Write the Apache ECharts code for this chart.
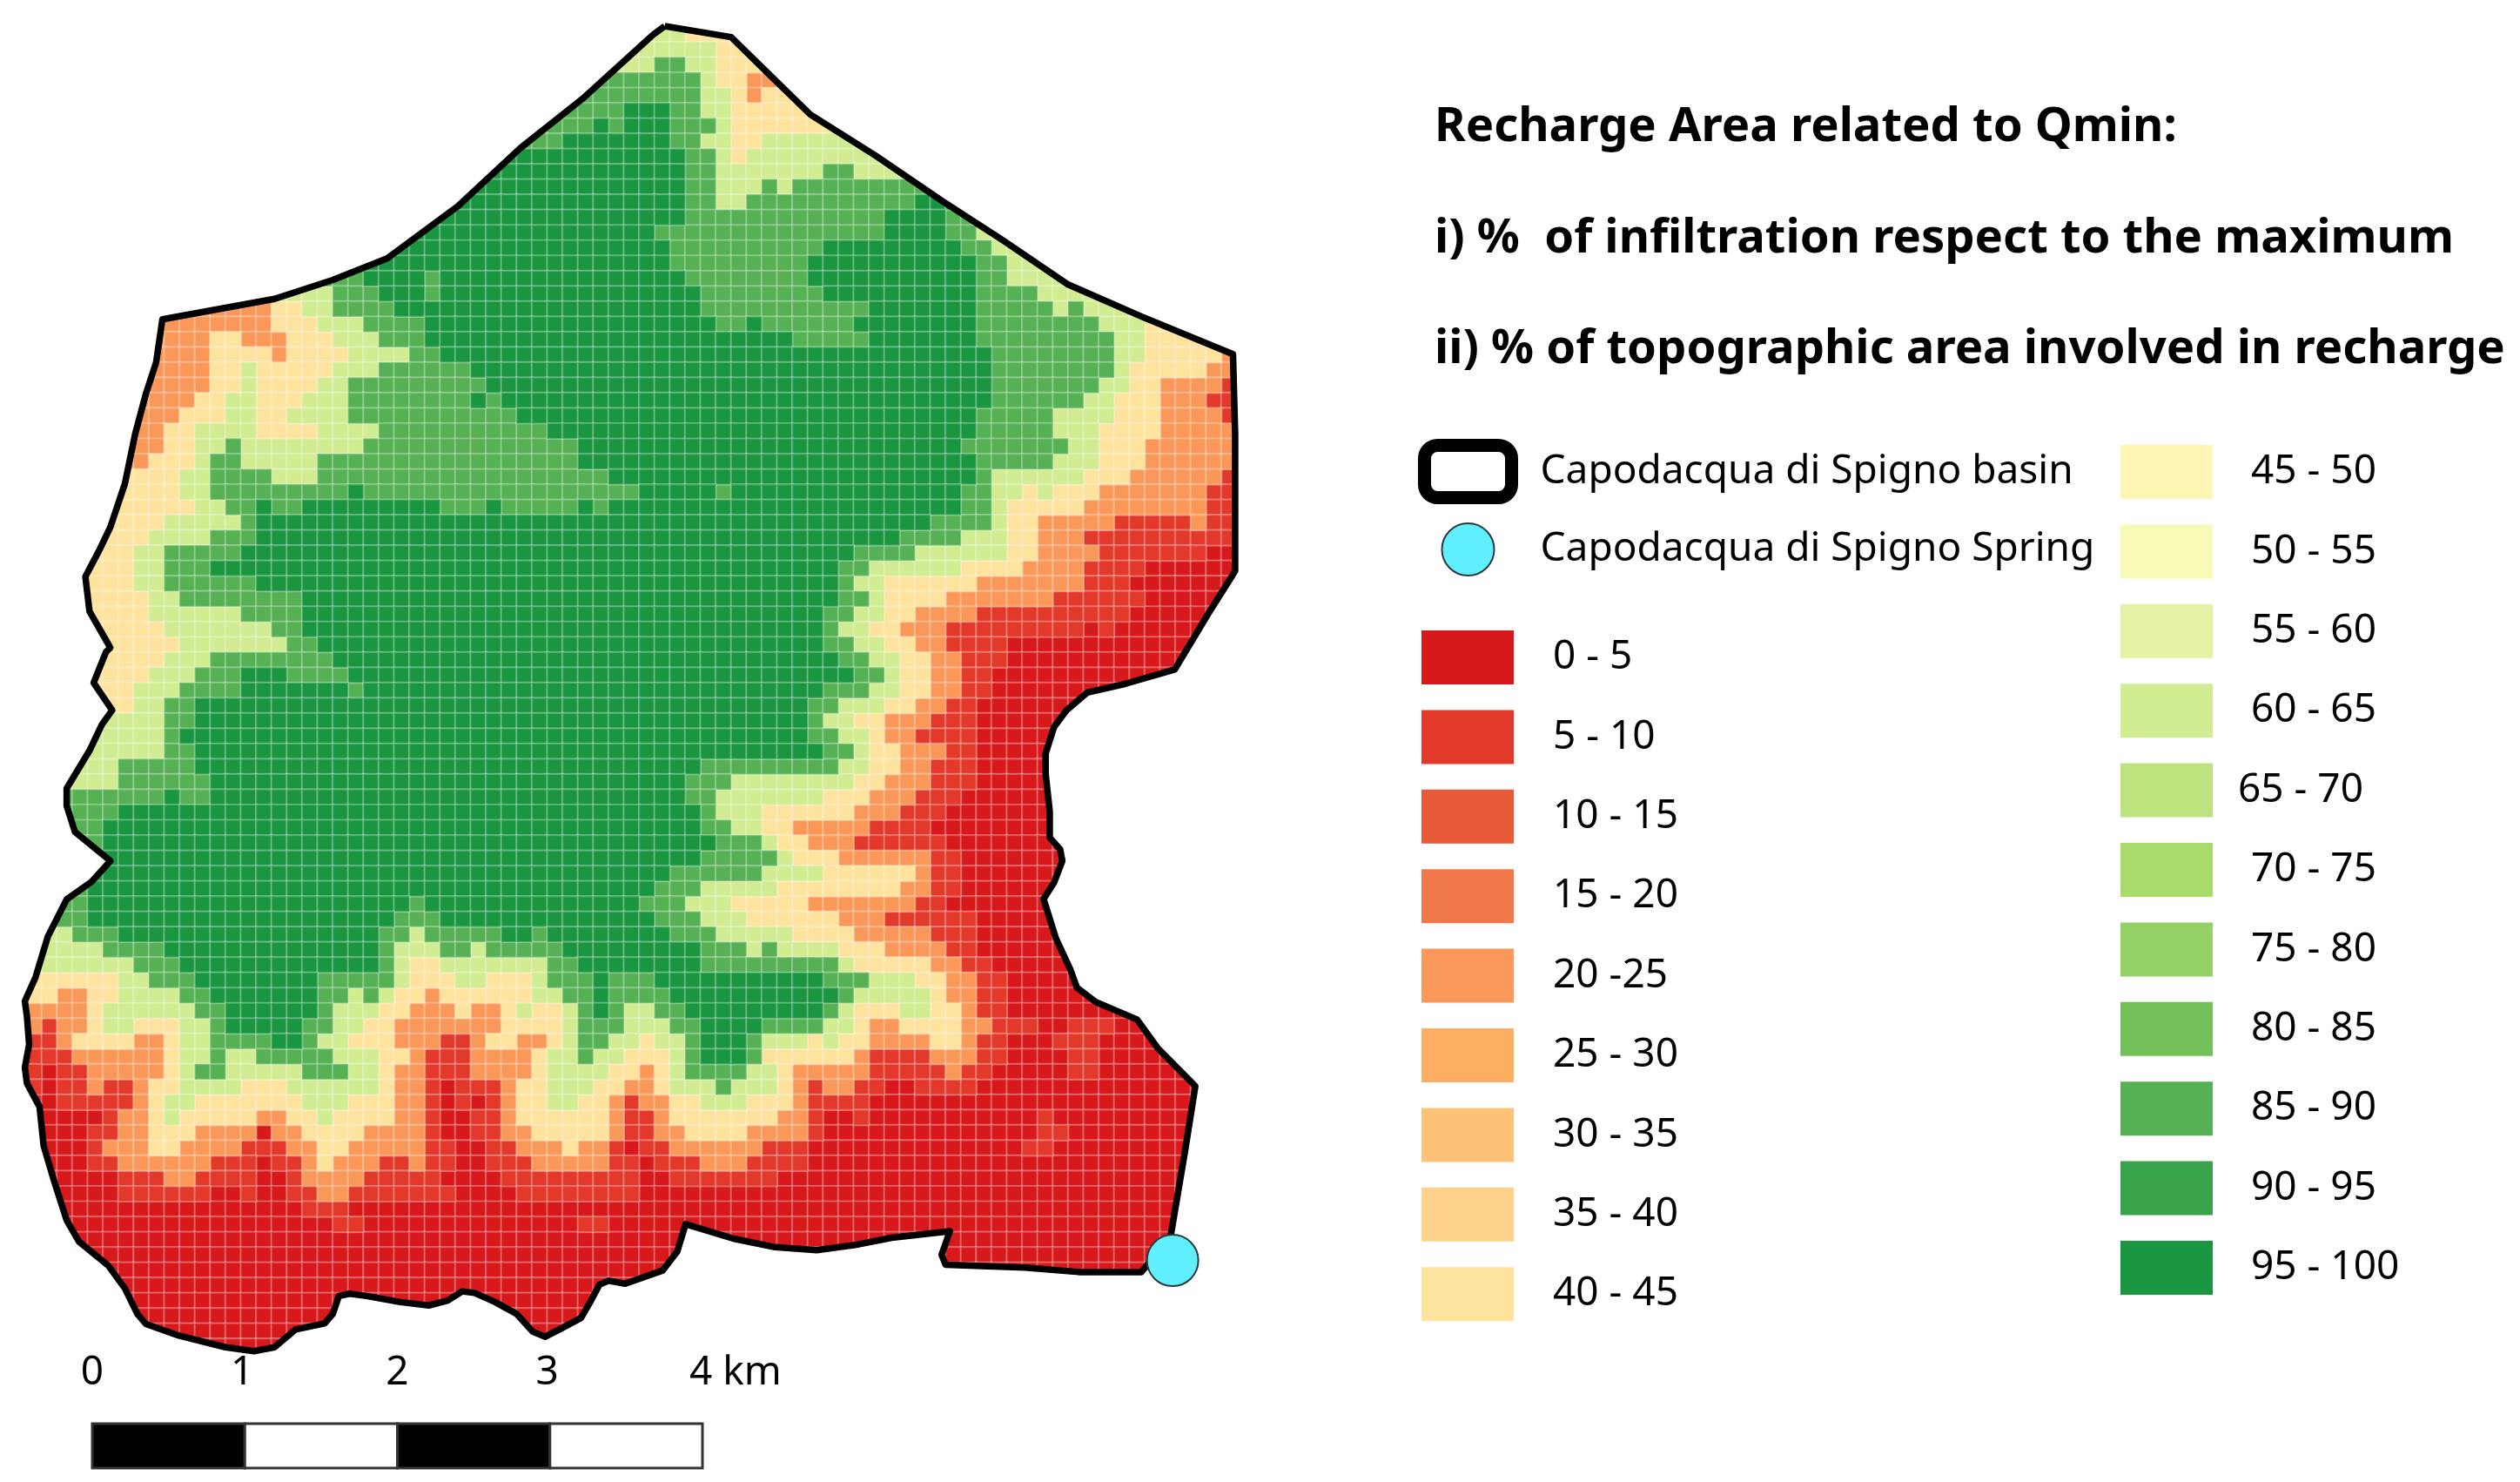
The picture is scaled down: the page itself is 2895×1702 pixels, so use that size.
<!DOCTYPE html>
<html>
<head>
<meta charset="utf-8">
<style>html,body{margin:0;padding:0;background:#fff}#c{width:2895px;height:1702px}</style>
<script src="https://cdn.jsdelivr.net/npm/echarts@6/dist/echarts.min.js"></script>
</head>
<body>
<div id="c"></div>
<script>
// Infiltration classes, low to high
const bandNames = ['0 - 5','5 - 10','10 - 15','15 - 20','20 -25','25 - 30','30 - 35','35 - 40','40 - 45',
  '45 - 50','50 - 55','55 - 60','60 - 65','65 - 70','70 - 75','75 - 80','80 - 85','85 - 90','90 - 95','95 - 100'];
const bandColors = ['#d7191c','#e2392a','#e85a38','#f1784a','#f99858','#fdae61','#fec178','#fed28d','#fee39f',
  '#fff5b5','#f8fbb8','#e3f2a5','#d2ec92','#bde37f','#a9da6c','#93d066','#73bf58','#55b153','#38a34b','#1a9641'];
// Letters used in the map rows -> index of the band in bandNames
const classOf = {R:0, r:1, O:4, Y:8, L:12, G:17, D:19};

// Raster rows, north to south. First number is the first column; each token is a class
// and the last column it reaches.
const mapRows = [
"",
"41 L43 Y47",
"40 L45 Y48",
"38 L41 G43 L45 Y49",
"36 G44 L45 Y47 O50",
"35 G44 L46 Y47 O48 Y52",
"34 G39 D42 G44 L46 Y53",
"33 G37 D38 G39 D42 G45 L46 Y54",
"32 G35 D42 G44 L46 Y48 L55",
"31 D43 G45 L46 Y47 L56",
"30 D43 G45 L52 G54 L58",
"29 D43 G45 L48 G49 L50 G60",
"28 D43 G45 L47 G58 D61",
"26 D43 G56 D60 G62",
"25 D41 G56 D60 G62 L64",
"24 D42 G52 D61 G63 L66",
"22 D42 G51 D62 G64 L68",
"19 G22 D26 G27 D43 G51 D62 G64 L69",
"16 L20 G23 D26 G27 D44 G52 D62 G66 L70",
"9 O16 Y18 L20 G24 D44 G55 D62 G67 L68 G69 L72",
"9 O16 Y19 L22 G26 D45 G47 D48 G54 D62 G70 L73 Y76",
"9 O12 Y14 O17 Y20 L23 G26 D50 G55 D62 G71 L73 Y78",
"9 O12 Y16 O17 Y21 L25 G27 D63 G71 L73 Y78 O80",
"9 O12 Y14 L15 Y20 L23 G29 D63 G71 L72 Y77 O80",
"8 O12 Y14 L15 Y19 L21 G30 D63 G70 L72 Y74 O78 r80",
"8 O11 Y13 L15 Y18 L21 G29 D30 G31 D63 G69 L71 Y74 O77 r80",
"7 O10 Y13 L15 Y17 L21 G32 D62 G67 L71 Y74 O78 r80",
"7 O9 Y11 L15 Y19 L23 G34 D62 G67 L70 Y74 O80",
"6 O9 Y11 L13 G14 L22 G36 D61 G68 L70 Y73 O80",
"6 O8 Y11 L12 G14 L19 G36 D62 G67 L70 Y73 O80",
"5 Y10 L12 G16 L19 G38 D62 G63 L69 Y72 O78 r80",
"5 Y10 L12 G21 D22 G40 D45 G46 D61 G63 L65 Y66 L67 Y70 O77 r80",
"5 Y11 L13 G15 D16 G18 D27 G30 D31 G36 D37 G38 D61 G63 L64 Y69 O77 r80",
"4 Y9 L14 G15 D59 G63 L64 Y66 O71 r76 O77 r80",
"3 Y8 L12 G15 D57 G61 L64 Y66 O69 r80",
"3 Y7 L9 G14 D54 G58 L64 Y66 O70 r77 R80",
"2 Y7 L9 G12 D53 G55 L61 Y65 O69 r73 R80",
"2 Y7 L9 G15 D53 G54 L56 Y62 O69 r72 R80",
"2 Y8 L10 G18 D53 G55 L56 Y60 O67 r73 R80",
"3 Y8 L14 G18 D52 G54 L56 Y58 O62 r72 R80",
"3 Y9 L16 G18 D52 G53 L55 Y57 O60 r69 R70 r71 R80",
"4 Y10 L17 G19 D52 G54 L56 Y58 O60 r64 R80",
"4 Y9 L12 G20 D53 G55 L57 Y59 O61 r64 R80",
"3 Y8 L11 G14 D17 G21 D54 G56 L57 Y59 O61 r63 R80",
"3 Y7 L10 G14 D21 G22 D52 G55 L57 Y59 O61 r63 R80",
"4 Y7 L9 G11 D51 G53 L56 Y58 O60 r62 R80",
"3 L9 G11 D51 G52 L54 Y56 O59 r62 R80",
"3 L9 G10 D51 G53 L55 Y56 O58 r62 R80",
"3 L9 G11 D52 G54 L55 Y57 O60 r62 R80",
"2 L6 G11 D44 G53 L55 Y57 O59 r62 R80",
"2 L6 G12 D43 G46 L54 Y56 O59 r62 R80",
"2 G9 D10 G12 D43 G45 L52 Y55 O58 r61 R80",
"2 G6 D44 G45 L48 Y54 O57 r60 R80",
"2 G5 D44 G46 L48 Y50 O55 r59 R80",
"3 G5 D45 G48 L49 Y51 O54 r60 R80",
"3 G5 D44 G49 L50 Y53 O59 r61 R80",
"4 D42 G48 L52 Y58 O59 r61 R80",
"3 G4 D41 G44 L49 Y57 O59 r61 R80",
"2 G4 D25 G26 D40 G43 L46 Y51 O58 r60 R80",
"1 G4 D24 G27 D41 G44 L47 Y53 O56 r62 R80",
"1 L3 G6 D23 G25 L26 G31 D33 G34 D42 G45 L50 Y54 O59 r62 R80",
"0 L5 G9 D23 G24 L27 G29 L30 G35 D44 G47 L48 G49 L53 Y56 O60 r62 R80",
"0 L7 G10 D23 G24 L25 Y27 L34 G36 D44 G53 L54 Y59 O61 r63 R80",
"0 Y6 L8 G11 D19 G24 L25 Y28 L30 Y33 L34 G37 D38 G41 D52 G55 L58 Y60 O62 r64 R80",
"0 Y2 O4 Y6 L10 G12 D19 G21 L22 G23 L24 Y26 O27 Y33 L35 G37 D38 G42 D53 G54 L59 Y60 O62 r64 R80",
"0 O4 Y5 L11 G13 D19 G20 L23 Y25 O28 Y29 O31 Y32 L33 Y35 L36 G37 D38 G39 L41 G43 D52 G53 L54 Y57 L59 Y61 O62 r64 R80",
"0 O1 r2 O4 Y5 L7 Y10 L12 G13 D18 G20 L22 Y24 O31 Y35 L36 G39 L42 G44 D48 G52 L54 Y55 O57 Y61 O63 r66 R68 r71 R80",
"0 r2 O3 Y7 O9 Y10 L12 G16 D18 G19 L21 Y24 O27 r29 O30 Y32 O34 Y35 L36 G38 L40 Y41 L43 G44 D47 G48 L51 Y52 L53 Y55 O59 Y61 O62 r64 R67 r70 R80",
"0 r3 O9 Y10 L12 G13 L15 G20 L23 Y25 O26 r29 O33 Y34 L36 G37 L39 Y42 L43 G44 D47 G48 Y54 O55 r59 O62 r64 R68 r70 R80",
"0 r1 R2 r4 O9 Y10 L11 G13 L18 G21 L23 Y24 O26 r29 O33 Y34 L38 Y40 O41 Y42 L43 G47 L49 Y50 O55 r60 O61 r63 R68 r70 R80",
"0 r1 R2 r4 O5 r7 O8 Y10 L14 Y17 L23 Y24 O26 r27 R28 r31 O32 Y34 L37 Y39 O41 Y42 L45 G46 L49 Y50 O51 r52 O54 r56 R58 r62 R80",
"0 R2 r7 O8 Y9 L11 Y18 L21 Y24 O26 r27 R28 r29 R30 r31 O32 Y34 L36 Y38 O39 r40 O42 Y44 L47 Y50 O51 r55 R80",
"0 R5 r6 O8 Y9 L10 Y15 O17 Y19 L20 Y24 O26 r27 R29 r31 O32 Y38 O39 r41 O42 Y49 O51 r52 R54 r55 R66 r67 R80",
"0 R4 r6 O8 Y11 O15 R16 O18 Y22 O26 r27 R29 r31 O33 Y38 O39 r41 O43 Y47 O51 r52 R66 r68 R80",
"0 R4 r5 O8 Y10 O14 r17 O19 Y21 O26 r28 R30 r32 O35 Y36 O38 r39 R40 r42 O48 r51 R65 r67 R80",
"0 R4 r6 O12 r15 R16 r18 O19 Y20 O23 r25 O26 r28 R30 r33 O38 r40 R41 r44 O47 r51 R80",
"0 R6 r9 O11 r15 R17 r18 O22 r27 R31 r40 R42 r49 R80",
"0 R6 r12 R14 r15 R17 r19 O21 r28 R32 r40 R80",
"0 R18 r21 R80",
"0 R20 r22 R36 r38 R80",
"0 R80","0 R80","0 R80","0 R80","0 R80","0 R80","0 R80","0 R80"
];

// Basin boundary in raster units (column, row)
const basinCol = [42.67,47,49.46,52.18,56.4,60.74,64.8,69,73.8,79.76,79.9,79.9,79.76,78.13,75.96,72.7,70.25,68.9,68.08,67.53,67.53,67.8,67.8,68.48,68.62,68.08,67.4,68.2,69.16,69.57,70.8,73.5,74.87,77.3,76.64,75.68,73.78,69.7,66.17,61,60.74,61.28,57.48,55.3,52.59,49.87,47.15,44.03,43.48,42.53,40.09,39,38.4,37.86,37.2,36,34.87,34.06,33,31.6,30.26,29.44,28.5,27.27,25.4,23.2,22.1,21.4,21,20.47,18.57,17.2,15.85,14,10.96,8.8,8.25,7.43,6.34,4.44,3.63,2.81,2.13,1.86,1.04,0.9,1.18,1.04,0.9,1.59,2.4,3.63,5.25,6.48,4.17,3.63,3.63,5.12,5.93,6.6,5.39,6.2,6.48,5.12,4.85,5.8,6.48,7.43,8.1,8.79,9.47,9.88,17.2,21,24.55,29.17,33.25,37.3,41.9];
const basinRow = [0.96,1.68,4.1,6.76,9.43,12.4,15.04,17.9,20,22.46,27.7,36.66,36.9,39.5,43.13,44.08,44.65,45.8,46.9,48.64,49.97,52.45,54.16,54.92,55.68,57.1,58.18,60.75,62.84,63.98,64.93,66.08,67.98,70.45,74.64,80.34,82.63,82.63,82.34,82.15,81.5,79.96,80.38,80.82,81.2,81,80.44,79.49,81.3,82.53,83.39,83.2,83.46,84.5,85.64,86.28,86.87,86.54,85.38,84.6,84,83.9,84.5,84.82,84.6,84.2,84.05,84.2,85.38,86,86.4,87.56,87.82,87.56,86.8,86.03,85.38,83.7,82.2,80.64,79.23,76.67,74.36,71.8,70.26,69.23,67.7,65.9,64.87,63.33,60.64,58.2,57.05,55.68,53.78,52.07,50.93,48.45,46.74,45.8,44,41.98,41.7,39.32,37.04,35.23,33.8,30.95,27.7,25.1,23,20.18,18.84,17.6,16.18,12.76,8.95,5.72,1.53];
const springPoint = [75.82, 81.87];

const scaleTicks = [0,1,2,3,4];
const scaleLabels = ['0','1','2','3','4 km'];
const titleLines = ['Recharge Area related to Qmin:','i) %  of infiltration respect to the maximum','ii) % of topographic area involved in recharge'];
const basinName = 'Capodacqua di Spigno basin';
const springName = 'Capodacqua di Spigno Spring';

const COLS = 81, ROWS = 88;
const FONT = '"Noto Sans"';

const cells = bandNames.map(() => []);
mapRows.forEach((spec, r) => {
  if (!spec) return;
  const t = spec.split(' ');
  let c = +t[0];
  for (let i = 1; i < t.length; i++) {
    const b = classOf[t[i][0]], end = +t[i].slice(1);
    for (; c <= end; c++) cells[b].push([c, r, (b + 0.5) * 5]);
  }
});

const heatSeries = bandNames.map((name, i) => ({
  type: 'heatmap', name, xAxisIndex: 0, yAxisIndex: 0, data: cells[i], progressive: 0,
  itemStyle: {color: bandColors[i], borderColor: 'rgba(255,255,255,0.24)', borderWidth: 2.2},
  emphasis: {disabled: true}, silent: true, z: 1
}));

const ring = basinCol.map((x, i) => [x, basinRow[i]]);
const ringBack = ring.slice().reverse();

const maskSeries = {
  type: 'custom', coordinateSystem: 'cartesian2d', xAxisIndex: 1, yAxisIndex: 1, silent: true, z: 5, clip: false,
  data: [[0, 0]],
  renderItem(p, api) {
    const m = 0.2;
    const outer = [[-m,-m],[COLS+m,-m],[COLS+m,ROWS+m],[-m,ROWS+m],[-m,-m]];
    const pts = outer.concat(ringBack, [ringBack[0], [-m, -m]]).map(d => api.coord(d));
    return {type: 'polygon', shape: {points: pts}, style: {fill: '#fff', stroke: null}};
  }
};
const basinSeries = {
  type: 'custom', name: basinName, coordinateSystem: 'cartesian2d', xAxisIndex: 1, yAxisIndex: 1, silent: true, z: 6,
  data: [[0, 0]],
  itemStyle: {color: '#000'},
  renderItem(p, api) {
    const pts = ring.concat([ring[0]]).map(d => api.coord(d));
    return {type: 'polyline', shape: {points: pts},
      style: {fill: null, stroke: '#000', lineWidth: 7.5, lineJoin: 'round'}};
  }
};
const springSeries = {
  type: 'scatter', name: springName, xAxisIndex: 1, yAxisIndex: 1, z: 7, silent: true,
  data: [springPoint], symbol: 'circle', symbolSize: 59,
  itemStyle: {color: '#5fefff', borderColor: '#2b3a40', borderWidth: 2, opacity: 1}
};
const scaleBar = {
  type: 'custom', coordinateSystem: 'cartesian2d', xAxisIndex: 2, yAxisIndex: 2, silent: true, z: 8,
  data: scaleTicks.slice(0, -1).map((v, i) => [v, scaleTicks[i + 1]]),
  renderItem(p, api) {
    const a = api.coord([api.value(0), 1]), b = api.coord([api.value(1), 0]);
    return {type: 'rect', shape: {x: a[0], y: a[1], width: b[0] - a[0], height: b[1] - a[1]},
      style: {fill: p.dataIndex % 2 ? '#fff' : '#000', stroke: '#333', lineWidth: 3}};
  }
};
const scaleText = {
  type: 'custom', coordinateSystem: 'cartesian2d', xAxisIndex: 2, yAxisIndex: 2, silent: true, z: 8,
  data: scaleTicks.map(v => [v, 1]),
  renderItem(p, api) {
    const a = api.coord([api.value(0), 1]);
    const last = p.dataIndex === scaleTicks.length - 1;
    return {type: 'text', x: last ? a[0] - 15 : a[0] - (p.dataIndex % 2 ? 3 : 0), y: a[1] - 58,
      style: {text: scaleLabels[p.dataIndex], fill: '#000', font: '46px ' + FONT,
        textAlign: last ? 'left' : 'center', textVerticalAlign: 'middle'}};
  }
};

const axisOff = {show: false};
const chart = echarts.init(document.getElementById('c'), null, {renderer: 'canvas', width: 2895, height: 1702});
const legendText = (pad, topPad) => ({color: '#000', fontFamily: FONT, fontSize: 46, padding: [topPad, 0, 0, pad]});
const bandItem = (i, pad, topPad) => ({name: bandNames[i], icon: 'rect',
  itemStyle: {color: bandColors[i], borderWidth: 0, opacity: 1},
  textStyle: pad === undefined ? undefined : legendText(pad, topPad)});

chart.setOption({
  animation: false,
  backgroundColor: '#fff',
  title: titleLines.map((text, i) => ({
    text, left: 1648, top: [119, 247, 374][i],
    textStyle: {fontFamily: FONT, fontWeight: 'bold', fontSize: 54.4, color: '#000'}, padding: 0
  })),
  grid: [
    {left: 12.7, top: 13.2, width: COLS * 17.6, height: ROWS * 17.52, containLabel: false},
    {left: 106, top: 1635, width: 701, height: 51, containLabel: false}
  ],
  xAxis: [
    Object.assign({type: 'category', gridIndex: 0, data: Array.from({length: COLS}, (_, i) => i)}, axisOff),
    Object.assign({type: 'value', gridIndex: 0, min: 0, max: COLS}, axisOff),
    Object.assign({type: 'value', gridIndex: 1, min: 0, max: 4}, axisOff)
  ],
  yAxis: [
    Object.assign({type: 'category', gridIndex: 0, inverse: true, data: Array.from({length: ROWS}, (_, i) => i)}, axisOff),
    Object.assign({type: 'value', gridIndex: 0, min: 0, max: ROWS, inverse: true}, axisOff),
    Object.assign({type: 'value', gridIndex: 1, min: 0, max: 1}, axisOff)
  ],
  legend: [
    {left: 1629, top: 504, orient: 'vertical', itemWidth: 100, itemHeight: 60, itemGap: 21, selectedMode: false,
     padding: 0, textStyle: legendText(28, 4),
     data: [
       {name: basinName, icon: 'roundRect', itemStyle: {color: '#fff', borderColor: '#000', borderWidth: 15}},
       {name: springName, icon: 'circle', itemStyle: {color: '#5fefff', borderColor: '#2b3a40', borderWidth: 2}}
     ]},
    {left: 1633, top: 724, orient: 'vertical', itemWidth: 106, itemHeight: 62, itemGap: 29.4, selectedMode: false,
     padding: 0, textStyle: legendText(40, 8),
     data: [0,1,2,3,4,5,6,7,8].map(i => bandItem(i))},
    {left: 2436, top: 511, orient: 'vertical', itemWidth: 106, itemHeight: 62, itemGap: 29.4, selectedMode: false,
     padding: 0, textStyle: legendText(39, 6),
     data: [9,10,11,12,13,14,15,16,17,18,19].map(i => bandItem(i, i === 13 ? 24 : undefined, 6))}
  ],
  series: heatSeries.concat([maskSeries, basinSeries, springSeries, scaleBar, scaleText])
});
</script>
</body>
</html>
